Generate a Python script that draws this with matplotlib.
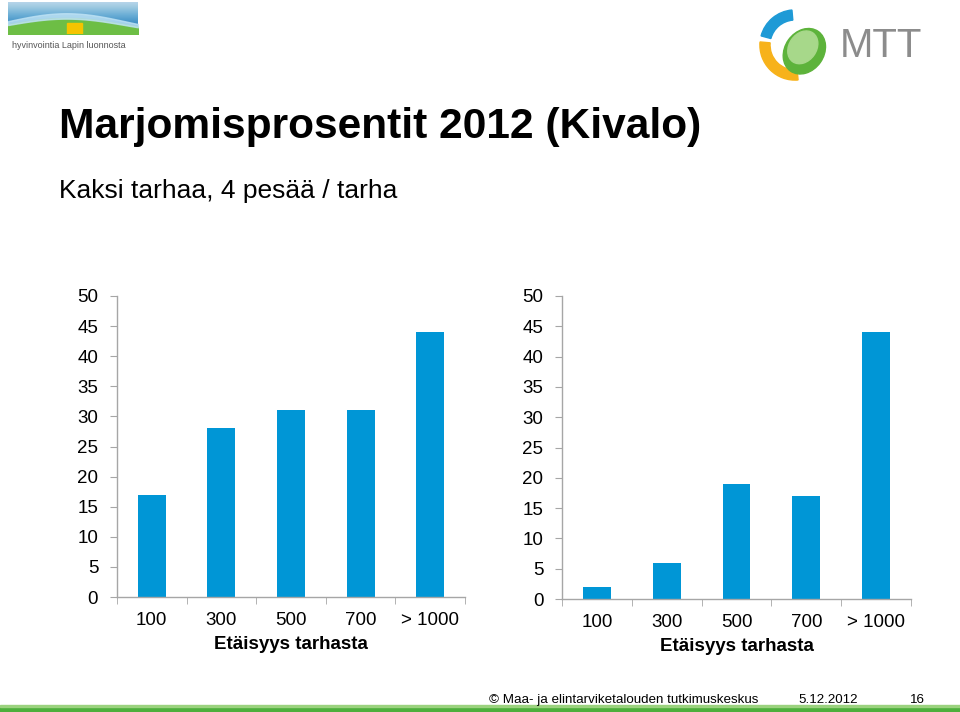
import numpy as np
import matplotlib.pyplot as plt
from matplotlib.patches import Rectangle, Wedge, Ellipse

categories = ["100", "300", "500", "700", "> 1000"]
left_values = [17, 28, 31, 31, 44]
right_values = [2, 6, 19, 17, 44]
y_ticks = [0, 5, 10, 15, 20, 25, 30, 35, 40, 45, 50]

title = "Marjomisprosentit 2012 (Kivalo)"
subtitle = "Kaksi tarhaa, 4 pesää / tarha"
xlabel = "Etäisyys tarhasta"
footer = "© Maa- ja elintarviketalouden tutkimuskeskus"
footer_date = "5.12.2012"
footer_page = "16"

bar_color = "#0096D6"
axis_color = "#A6A6A6"

plt.rcParams['font.family'] = ['Liberation Sans', 'DejaVu Sans']

fig = plt.figure(figsize=(9.6, 7.12), dpi=100)
W, H = 960, 712


def fx(px):
    return px / W


def fy(py):
    return 1 - py / H


def draw_chart(rect, values):
    ax = fig.add_axes(rect)
    x = np.arange(len(categories))
    ax.bar(x, values, width=0.4, color=bar_color)
    ax.set_xlim(-0.5, len(categories) - 0.5)
    ax.set_ylim(0, 50)
    ax.set_yticks(y_ticks)
    ax.set_yticklabels([str(v) for v in y_ticks], fontsize=13.5)
    ax.set_xticks(x)
    ax.set_xticklabels(categories, fontsize=13.5)
    ax.set_xticks(np.arange(len(categories) + 1) - 0.5, minor=True)
    ax.tick_params(axis='x', which='major', length=0, pad=11)
    ax.tick_params(axis='x', which='minor', length=5, color=axis_color)
    ax.tick_params(axis='y', length=5, color=axis_color, pad=8.5)
    for s in ['top', 'right']:
        ax.spines[s].set_visible(False)
    for s in ['left', 'bottom']:
        ax.spines[s].set_color(axis_color)
        ax.spines[s].set_linewidth(1)
    ax.set_xlabel(xlabel, fontsize=13.5, fontweight='bold', labelpad=5)
    return ax


draw_chart([fx(117), fy(597), fx(465) - fx(117), fy(296) - fy(597)], left_values)
draw_chart([fx(562), fy(599), fx(911) - fx(562), fy(296) - fy(599)], right_values)

# title and subtitle
fig.text(fx(59), fy(138), title, fontsize=30.6, fontweight='bold', va='baseline')
fig.text(fx(59), fy(198), subtitle, fontsize=19, va='baseline')

# footer
fig.text(fx(489), fy(703), footer, fontsize=9.6, va='baseline')
fig.text(fx(798), fy(703), footer_date, fontsize=9.6, va='baseline')
fig.text(fx(910), fy(703), footer_page, fontsize=9.6, va='baseline')
fig.patches.append(Rectangle((0, 0), 1, fy(707), transform=fig.transFigure, color="#4DAF3C"))
fig.patches.append(Rectangle((0, fy(707)), 1, fy(705) - fy(707), transform=fig.transFigure, color="#9BD27E"))

# top-left logo
lax = fig.add_axes([fx(8), fy(34), fx(138) - fx(8), fy(2) - fy(34)])
grad = np.linspace(0, 1, 100)[:, None]
lax.imshow(np.hstack([grad] * 10), cmap='Blues', vmin=-0.6, vmax=1.4, aspect='auto', extent=[0, 1, 0, 1])
xs = np.linspace(0, 1, 60)
lax.fill_between(xs, 0, 0.3 + 0.2 * np.sin(xs * 3.5), color="#6DBE45")
lax.fill_between(xs, 0.28 + 0.2 * np.sin(xs * 3.5), 0.4 + 0.25 * np.sin(xs * 3.5), color="#BFE3F5", alpha=0.8)
lax.add_patch(Rectangle((0.45, 0.0), 0.12, 0.35, color="#F5C400"))
lax.set_xlim(0, 1)
lax.set_ylim(0, 1)
lax.axis('off')
fig.text(fx(12), fy(48), "hyvinvointia Lapin luonnosta", fontsize=6.5, color="#555555", va='baseline')

# top-right logo
rax = fig.add_axes([fx(755), fy(84), fx(835) - fx(755), fy(6) - fy(84)])
rax.add_patch(Wedge((0.5, 0.5), 0.45, 95, 165, width=0.13, color="#1E9AD6"))
rax.add_patch(Wedge((0.5, 0.5), 0.45, 175, 275, width=0.13, color="#F7B21B"))
rax.add_patch(Ellipse((0.62, 0.42), 0.5, 0.62, angle=-35, color="#5DB33B"))
rax.add_patch(Ellipse((0.6, 0.47), 0.35, 0.45, angle=-35, color="#A7D88A"))
rax.set_xlim(0, 1)
rax.set_ylim(0, 1)
rax.set_aspect('equal')
rax.axis('off')
fig.text(fx(840), fy(57), "MTT", fontsize=29, color="#8C8C8C", va='baseline')

fig.savefig("out.png", dpi=100)
